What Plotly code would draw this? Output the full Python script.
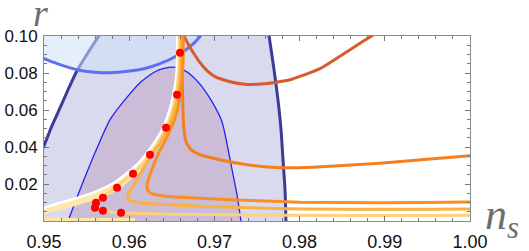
import plotly.graph_objects as go

# ---------------- axes ----------------
x_ticks = [0.95, 0.96, 0.97, 0.98, 0.99, 1.00]
x_tick_labels = ["0.95", "0.96", "0.97", "0.98", "0.99", "1.00"]
y_ticks = [0.02, 0.04, 0.06, 0.08, 0.10]
y_tick_labels = ["0.02", "0.04", "0.06", "0.08", "0.10"]

# ---------------- 2-sigma contour (dark navy) ----------------
navy_left_ns = [0.95669, 0.95646, 0.95516, 0.95387, 0.95293, 0.95200, 0.95094, 0.95000, 0.94953]
navy_left_r = [0.1024, 0.1002, 0.09097, 0.08124, 0.07205, 0.06232, 0.05151, 0.04070, 0.0358]
navy_right_ns = [0.97635, 0.97641, 0.97700, 0.97746, 0.97782, 0.97805, 0.97829, 0.97840, 0.97842]
navy_right_r = [0.1024, 0.1002, 0.08178, 0.06557, 0.04935, 0.03314, 0.01692, 0.0, -0.0015]

# ---------------- 1-sigma contour (thin blue) ----------------
inner_ns = [0.95282, 0.95399, 0.95516, 0.95634, 0.95775, 0.95951, 0.96127, 0.96303, 0.96420,
            0.96514, 0.96631, 0.96749, 0.96854, 0.96972, 0.97089, 0.97207, 0.97265, 0.97312]
inner_r = [0.0, 0.01422, 0.02773, 0.04070, 0.05476, 0.06557, 0.07476, 0.08070, 0.08259,
           0.08314, 0.08178, 0.07800, 0.07259, 0.06449, 0.05368, 0.02773, 0.01422, 0.0]

# ---------------- upper constraint (medium blue) ----------------
upper_ns = [0.94953, 0.95000, 0.95188, 0.95387, 0.95599, 0.95786, 0.95986, 0.96174, 0.96362,
            0.96561, 0.96714, 0.96819, 0.96854]
upper_r = [0.08854, 0.08773, 0.08449, 0.08178, 0.08043, 0.08016, 0.08097, 0.08232, 0.08503,
           0.08935, 0.09422, 0.09908, 0.10124]

# ---------------- model curves ----------------
red_ns = [0.96637, 0.96643, 0.96702, 0.96761, 0.96831, 0.96913, 0.97007, 0.97183, 0.97359,
          0.97594, 0.97887, 0.98239, 0.98592, 0.98850, 0.98908]
red_r = [0.1018, 0.1002, 0.09476, 0.09043, 0.08557, 0.08124, 0.07800, 0.07530, 0.07395,
         0.07422, 0.07638, 0.08232, 0.09259, 0.1002, 0.1018]

a_ns = [0.96620, 0.96620, 0.96626, 0.96631, 0.96643, 0.96667, 0.96725, 0.96831, 0.96984,
        0.97383, 0.97770, 0.98157, 0.98944, 1.00000, 1.00117]
a_r = [0.1018, 0.08719, 0.07097, 0.06016, 0.04935, 0.04286, 0.03854, 0.03584, 0.03395,
       0.03043, 0.02881, 0.02908, 0.03124, 0.03530, 0.0358]

trunk_ns = [0.96585, 0.96590, 0.96573, 0.96549, 0.96502, 0.96432, 0.96338, 0.96244, 0.96150,
            0.96045, 0.95939, 0.95857, 0.95657, 0.95423, 0.95188, 0.95000, 0.94906]
trunk_r = [0.1018, 0.08935, 0.07638, 0.06773, 0.05908, 0.04989, 0.04232, 0.03584, 0.03043,
           0.02557, 0.02178, 0.01854, 0.01422, 0.01097, 0.00773, 0.00557, 0.00449]

white_ns = [0.96561, 0.96567, 0.96549, 0.96514, 0.96467, 0.96397, 0.96303, 0.96209, 0.96115,
            0.96009, 0.95904, 0.95822, 0.95634, 0.95399, 0.95188, 0.95000, 0.94906]
white_r = [0.1018, 0.08935, 0.07638, 0.06773, 0.05908, 0.05043, 0.04286, 0.03692, 0.03151,
           0.02719, 0.02341, 0.02070, 0.01638, 0.01259, 0.00989, 0.00719, 0.00611]

e_ns = [0.96585, 0.96590, 0.96573, 0.96549, 0.96502, 0.96432, 0.96338, 0.96244, 0.96150,
        0.96045, 0.95939, 0.95857, 0.95739, 0.95657, 0.95610, 0.95599, 0.95622, 0.95692,
        0.95892, 0.96244, 0.96831, 0.98005, 0.99178, 1.00000, 1.00117]
e_r = [0.1018, 0.08935, 0.07638, 0.06773, 0.05908, 0.04989, 0.04232, 0.03584, 0.03043,
       0.02557, 0.02178, 0.01854, 0.01476, 0.01205, 0.00989, 0.00773, 0.00611, 0.00530,
       0.00449, 0.00395, 0.00351, 0.00308, 0.00297, 0.00308, 0.00308]

c_ns = [0.96608, 0.96612, 0.96596, 0.96573, 0.96526, 0.96455, 0.96362, 0.96268, 0.96185,
        0.96103, 0.96033, 0.95986, 0.95986, 0.96033, 0.96150, 0.96362, 0.96831, 0.97418,
        0.98005, 0.99178, 1.00000, 1.00117]
c_r = [0.1018, 0.08935, 0.07638, 0.06773, 0.05908, 0.04989, 0.04232, 0.03584, 0.02989,
       0.02341, 0.01800, 0.01422, 0.01205, 0.01070, 0.00962, 0.00908, 0.00800, 0.00719,
       0.00649, 0.00632, 0.00649, 0.00649]

d_ns = [0.96631, 0.96635, 0.96620, 0.96596, 0.96561, 0.96491, 0.96408, 0.96338, 0.96279,
        0.96232, 0.96209, 0.96221, 0.96279, 0.96420, 0.96714, 0.97183, 0.98005, 0.98944,
        1.00000, 1.00117]
d_r = [0.1018, 0.08935, 0.07638, 0.06773, 0.05908, 0.04989, 0.04232, 0.03584, 0.02935,
       0.02341, 0.01908, 0.01638, 0.01449, 0.01341, 0.01259, 0.01151, 0.01016, 0.00989,
       0.01027, 0.01027]

strip_ns = [0.9490, 0.9607]
strip_r = [0.0008, 0.0008]

# ---------------- data points ----------------
dots_ns = [0.96596, 0.96561, 0.96432, 0.96244, 0.96045, 0.95857, 0.95692, 0.95610, 0.95599,
           0.95692, 0.95904]
dots_r = [0.09097, 0.06827, 0.05043, 0.03584, 0.02557, 0.01800, 0.01259, 0.00989, 0.00719,
          0.00557, 0.00449]

X_MIN, X_MAX, Y_MIN, Y_MAX = 0.95, 1.00, 0.0, 0.10

fig = go.Figure()

# lavender 2-sigma region
lav_x = navy_left_ns + [0.9490, 0.9490] + [0.9786] + navy_right_ns[::-1]
lav_y = navy_left_r + [0.0358, -0.003] + [-0.003] + navy_right_r[::-1]
fig.add_trace(go.Scatter(x=lav_x, y=lav_y, mode="lines", fill="toself",
                         fillcolor="#dadaef", line=dict(width=0), hoverinfo="skip"))
# inner 1-sigma region
fig.add_trace(go.Scatter(x=inner_ns, y=inner_r, mode="lines", fill="toself",
                         fillcolor="#cbbcd8", line=dict(width=0, shape="spline", smoothing=0.6),
                         hoverinfo="skip"))
# navy boundaries
for xs, ys in [(navy_left_ns, navy_left_r), (navy_right_ns, navy_right_r)]:
    fig.add_trace(go.Scatter(x=xs, y=ys, mode="lines",
                             line=dict(color="#3b3b98", width=3, shape="spline", smoothing=0.6),
                             hoverinfo="skip"))
# thin blue
fig.add_trace(go.Scatter(x=inner_ns, y=inner_r, mode="lines",
                         line=dict(color="#2424ee", width=1.3, shape="spline", smoothing=0.6),
                         hoverinfo="skip"))
# light blue overlay region
bl_x = upper_ns + [0.9686, 0.9490]
bl_y = upper_r + [0.104, 0.104]
fig.add_trace(go.Scatter(x=bl_x, y=bl_y, mode="lines", fill="toself",
                         fillcolor="rgba(205,225,248,0.55)", line=dict(width=0),
                         hoverinfo="skip"))
fig.add_trace(go.Scatter(x=upper_ns, y=upper_r, mode="lines",
                         line=dict(color="#5f6ff0", width=3, shape="spline", smoothing=0.6),
                         hoverinfo="skip"))

SM = 0.5
# model curves
fig.add_trace(go.Scatter(x=strip_ns, y=strip_r, mode="lines",
                         line=dict(color="#fde6a6", width=3), hoverinfo="skip"))
fig.add_trace(go.Scatter(x=red_ns, y=red_r, mode="lines",
                         line=dict(color="#d95a2b", width=3, shape="spline", smoothing=SM),
                         hoverinfo="skip"))
fig.add_trace(go.Scatter(x=a_ns, y=a_r, mode="lines",
                         line=dict(color="#f57f1e", width=3, shape="spline", smoothing=SM),
                         hoverinfo="skip"))
fig.add_trace(go.Scatter(x=trunk_ns, y=trunk_r, mode="lines",
                         line=dict(color="#fde7aa", width=7, shape="spline", smoothing=SM),
                         hoverinfo="skip"))
fig.add_trace(go.Scatter(x=white_ns, y=white_r, mode="lines",
                         line=dict(color="#ffffff", width=2.5, shape="spline", smoothing=SM),
                         hoverinfo="skip"))
fig.add_trace(go.Scatter(x=e_ns, y=e_r, mode="lines",
                         line=dict(color="#fdd27c", width=3, shape="spline", smoothing=SM),
                         hoverinfo="skip"))
fig.add_trace(go.Scatter(x=c_ns, y=c_r, mode="lines",
                         line=dict(color="#fbb040", width=3, shape="spline", smoothing=SM),
                         hoverinfo="skip"))
fig.add_trace(go.Scatter(x=d_ns, y=d_r, mode="lines",
                         line=dict(color="#f7901f", width=3, shape="spline", smoothing=SM),
                         hoverinfo="skip"))

# red dots
fig.add_trace(go.Scatter(x=dots_ns, y=dots_r, mode="markers",
                         marker=dict(color="#ff0000", size=8, line=dict(width=0)),
                         hoverinfo="skip", cliponaxis=False))

common = dict(showgrid=False, zeroline=False, showline=True, linecolor="#8a8a8a", linewidth=1,
              mirror="ticks", ticks="inside", ticklen=5, tickwidth=1, tickcolor="#777777",
              automargin=False)

fig.update_layout(
    width=529, height=251,
    margin=dict(l=44, r=59, t=36, b=30),
    paper_bgcolor="white", plot_bgcolor="white",
    showlegend=False,
    xaxis=dict(range=[X_MIN, X_MAX], tickvals=x_ticks, ticktext=x_tick_labels,
               minor=dict(dtick=0.002, tick0=0.95, ticks="inside", ticklen=3,
                          tickcolor="#777777", showgrid=False),
               tickfont=dict(family="Liberation Sans, Arial, sans-serif", size=18, color="#111111"),
               ticklabelstandoff=4,
               **common),
    yaxis=dict(range=[Y_MIN, Y_MAX], tickvals=y_ticks, ticktext=y_tick_labels,
               minor=dict(dtick=0.005, tick0=0.0, ticks="inside", ticklen=3,
                          tickcolor="#777777", showgrid=False),
               tickfont=dict(family="Liberation Sans, Arial, sans-serif", size=17, color="#111111"),
               ticklabelstandoff=2,
               **common),
    annotations=[
        dict(text="<i>r</i>", xref="paper", yref="paper", x=-0.009, y=1.0, xanchor="center",
             yanchor="bottom", yshift=0, showarrow=False,
             font=dict(family="Liberation Serif, Times New Roman, serif", size=38,
                       color="#6e6e6e")),
        dict(text="<i>n</i><sub><i>s</i></sub>", xref="paper", yref="paper", x=1.03, y=0.0,
             xanchor="left", yanchor="middle", yshift=4, showarrow=False,
             font=dict(family="Liberation Serif, Times New Roman, serif", size=44,
                       color="#6e6e6e")),
    ],
)

# remove the browser's default 8px body margin so the figure fills the window exactly
fig.write_html("out.html", config={"displayModeBar": False},
               post_script="document.body.style.margin='0';")
